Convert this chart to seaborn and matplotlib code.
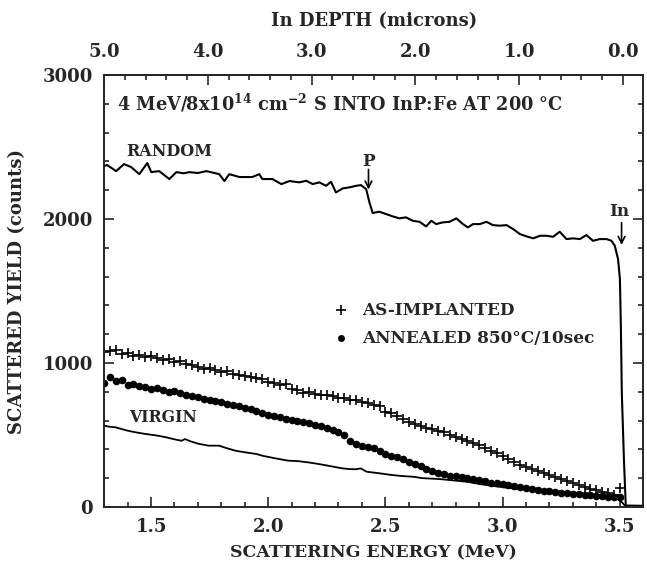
import numpy as np
import pandas as pd
import matplotlib
matplotlib.use("Agg")
import matplotlib.pyplot as plt
from matplotlib.ticker import MultipleLocator, FormatStrFormatter
import seaborn as sns

# ---------------- data ----------------
random_energy = [1.300, 1.313, 1.351, 1.385, 1.415, 1.450, 1.484, 1.501, 1.535, 1.578,
                 1.608, 1.640, 1.663, 1.700, 1.736, 1.791, 1.813, 1.834, 1.877, 1.932,
                 1.962, 1.975, 2.018, 2.056, 2.091, 2.133, 2.162, 2.190, 2.218, 2.247,
                 2.268, 2.289, 2.318, 2.346, 2.375, 2.396, 2.418, 2.432, 2.446, 2.474,
                 2.503, 2.531, 2.560, 2.588, 2.617, 2.646, 2.674, 2.696, 2.717, 2.745,
                 2.774, 2.803, 2.831, 2.852, 2.874, 2.903, 2.931, 2.959, 2.988, 3.017,
                 3.045, 3.074, 3.102, 3.131, 3.160, 3.188, 3.216, 3.244, 3.273, 3.301,
                 3.330, 3.358, 3.386, 3.415, 3.444, 3.465, 3.479, 3.493, 3.501, 3.505,
                 3.509, 3.518, 3.526, 3.600]
random_counts = [2370, 2375, 2333, 2382, 2361, 2312, 2389, 2326, 2333, 2278,
                 2326, 2318, 2326, 2320, 2333, 2312, 2264, 2312, 2292, 2292,
                 2312, 2278, 2278, 2243, 2264, 2255, 2266, 2243, 2255, 2231,
                 2259, 2185, 2213, 2220, 2231, 2236, 2208, 2116, 2042, 2051,
                 2035, 2019, 2005, 2012, 1988, 1981, 1949, 1988, 1965, 1977,
                 1981, 2005, 1965, 1942, 1965, 1965, 1981, 1958, 1954, 1958,
                 1931, 1896, 1880, 1866, 1884, 1884, 1877, 1912, 1861, 1866,
                 1861, 1889, 1849, 1861, 1861, 1849, 1815, 1722, 1583, 1257,
                 799, 333, 10, 8]

channel_energy = np.round(np.arange(1.300, 3.5001, 0.025), 3)
as_implanted = [1076, 1085, 1090, 1062, 1070, 1048, 1055, 1040, 1050, 1035,
                1020, 1028, 1005, 1012, 990, 985, 975, 960, 968, 950,
                940, 945, 925, 915, 910, 905, 896, 890, 868, 860,
                845, 852, 818, 812, 795, 800, 785, 778, 775, 768,
                760, 755, 745, 740, 728, 720, 710, 700, 662, 655,
                630, 612, 592, 575, 560, 548, 540, 528, 518, 500,
                488, 470, 458, 445, 430, 410, 390, 372, 355, 335,
                315, 295, 278, 262, 250, 238, 222, 210, 195, 182,
                170, 155, 140, 128, 118, 105, 95, 85, 135]
annealed = [860, 900, 875, 880, 850, 855, 840, 835, 822, 828,
            815, 800, 805, 795, 775, 770, 765, 752, 745, 735,
            728, 718, 708, 700, 688, 678, 665, 655, 642, 632,
            622, 610, 603, 596, 590, 584, 572, 560, 548, 535,
            518, 500, 460, 440, 425, 420, 410, 392, 365, 352,
            345, 330, 315, 300, 282, 262, 248, 238, 228, 218,
            212, 205, 198, 192, 188, 180, 170, 165, 160, 152,
            145, 138, 130, 125, 118, 112, 108, 103, 98, 95,
            92, 88, 85, 80, 76, 73, 72, 70, 66]

virgin_energy = [1.300, 1.320, 1.350, 1.373, 1.400, 1.430, 1.473, 1.530, 1.570, 1.600,
                 1.630, 1.645, 1.670, 1.700, 1.745, 1.790, 1.820, 1.860, 1.900, 1.950,
                 1.975, 2.030, 2.085, 2.130, 2.170, 2.210, 2.255, 2.310, 2.340, 2.375,
                 2.395, 2.420, 2.475, 2.518, 2.570, 2.618, 2.660, 2.732, 2.800, 2.850,
                 2.900, 2.970, 3.040, 3.130, 3.200, 3.285, 3.370, 3.450, 3.480, 3.510,
                 3.525]
virgin_counts = [565, 558, 553, 542, 530, 520, 508, 495, 482, 470,
                 460, 472, 455, 440, 426, 426, 410, 391, 380, 368,
                 356, 338, 322, 318, 310, 300, 287, 270, 264, 262,
                 268, 245, 234, 224, 215, 210, 200, 194, 183, 175,
                 160, 144, 130, 120, 113, 102, 90, 78, 70, 32,
                 5]

depth_ticks = [5.0, 4.0, 3.0, 2.0, 1.0, 0.0]
energy_ticks = [1.5, 2.0, 2.5, 3.0, 3.5]
yield_ticks = [0, 1000, 2000, 3000]

random_df = pd.DataFrame({"E": random_energy, "Y": random_counts})
virgin_df = pd.DataFrame({"E": virgin_energy, "Y": virgin_counts})
impl_df = pd.DataFrame({"E": channel_energy, "Y": as_implanted})
ann_df = pd.DataFrame({"E": channel_energy, "Y": annealed})

# ---------------- style ----------------
sns.set_theme(style="ticks")
plt.rcParams["font.family"] = ["DejaVu Serif"]
plt.rcParams["font.weight"] = "bold"
plt.rcParams["mathtext.fontset"] = "dejavuserif"
plt.rcParams["mathtext.default"] = "bf"
plt.rcParams["axes.linewidth"] = 1.4

FS = 13
AFS = 12.2

fig = plt.figure(figsize=(6.47, 5.69), dpi=100)
ax = fig.add_axes([0.161, 0.109, 0.833, 0.759])

sns.lineplot(data=random_df, x="E", y="Y", ax=ax, color="black", lw=1.5, sort=False)
sns.lineplot(data=virgin_df, x="E", y="Y", ax=ax, color="black", lw=1.3, sort=False)
sns.scatterplot(data=impl_df, x="E", y="Y", ax=ax, marker="+", color="black",
                s=55, linewidth=1.2)
sns.scatterplot(data=ann_df, x="E", y="Y", ax=ax, marker="o", color="black",
                s=30, linewidth=0)

ax.set_xlim(1.3, 3.6)
ax.set_ylim(0, 3000)
ax.set_xticks(energy_ticks)
ax.xaxis.set_minor_locator(MultipleLocator(0.1))
ax.xaxis.set_major_formatter(FormatStrFormatter("%.1f"))
ax.set_yticks(yield_ticks)
ax.yaxis.set_minor_locator(MultipleLocator(200))
ax.tick_params(which="both", direction="in", bottom=True, left=True, right=True,
               top=False, labelsize=FS, width=1.2, pad=8)
ax.tick_params(which="major", length=7)
ax.tick_params(which="minor", length=3.5)
for lab in ax.get_xticklabels() + ax.get_yticklabels():
    lab.set_fontweight("bold")

ax.set_xlabel("SCATTERING ENERGY (MeV)", fontsize=12.5, fontweight="bold", labelpad=6)
ax.set_ylabel("SCATTERED YIELD (counts)", fontsize=FS, fontweight="bold", labelpad=12)

# top depth axis
def e2d(e):
    return (3.514 - np.asarray(e)) / 0.4428

def d2e(d):
    return 3.514 - 0.4428 * np.asarray(d)

sec = ax.secondary_xaxis("top", functions=(e2d, d2e))
sec.set_xticks(depth_ticks)
sec.xaxis.set_minor_locator(MultipleLocator(0.2))
sec.xaxis.set_major_formatter(FormatStrFormatter("%.1f"))
sec.tick_params(which="both", direction="in", labelsize=FS, width=1.2, pad=10)
sec.tick_params(which="major", length=7)
sec.tick_params(which="minor", length=3.5)
for lab in sec.get_xticklabels():
    lab.set_fontweight("bold")
sec.set_xlabel("In DEPTH (microns)", fontsize=FS, fontweight="bold", labelpad=12)

# annotations
ax.text(1.355, 2805, r"4 MeV/8x10$^{14}$ cm$^{-2}$ S INTO InP:Fe AT 200 °C",
        fontsize=12.8, fontweight="bold", va="center", ha="left")
ax.text(1.395, 2472, "RANDOM", fontsize=11.5, fontweight="bold", va="center", ha="left")
ax.text(1.405, 625, "VIRGIN", fontsize=11.3, fontweight="bold", va="center", ha="left")
ax.text(2.428, 2400, "P", fontsize=AFS, fontweight="bold", va="center", ha="center")
ax.annotate("", xy=(2.428, 2205), xytext=(2.428, 2345),
            arrowprops=dict(arrowstyle="->", lw=1.2, color="black",
                            shrinkA=0, shrinkB=0))
ax.text(3.50, 2052, "In", fontsize=AFS, fontweight="bold", va="center", ha="center")
ax.annotate("", xy=(3.508, 1820), xytext=(3.508, 1975),
            arrowprops=dict(arrowstyle="->", lw=1.2, color="black",
                            shrinkA=0, shrinkB=0))

# legend (manual, as in the reference)
ax.plot([2.309], [1368], marker="+", color="black", ms=7, mew=1.2, ls="none")
ax.text(2.400, 1368, "AS-IMPLANTED", fontsize=AFS, fontweight="bold", va="center", ha="left")
ax.plot([2.309], [1172], marker="o", color="black", ms=5, mew=0, ls="none")
ax.text(2.400, 1172, "ANNEALED 850°C/10sec", fontsize=AFS, fontweight="bold",
        va="center", ha="left")

fig.savefig("out.png", dpi=100)
